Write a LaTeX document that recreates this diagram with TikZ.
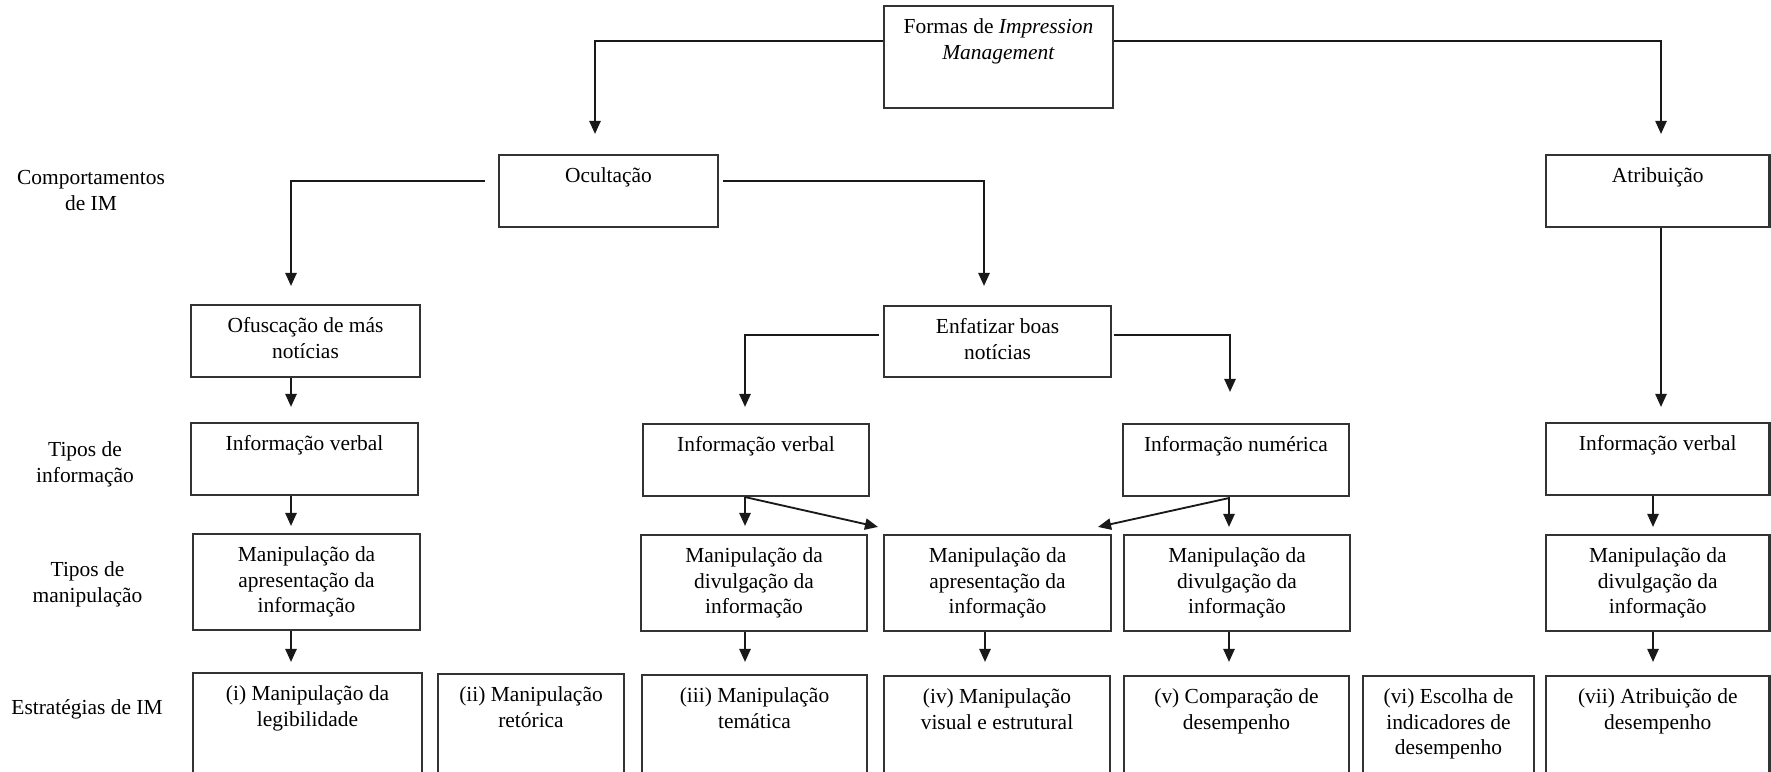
\documentclass[tikz,border=0pt]{standalone}
\usepackage{fontspec}
\setmainfont{Liberation Serif}
\usetikzlibrary{arrows.meta,calc}

% box from corner (x1,y1) to (x2,y2), pixel-like units, y grows downward
\newcommand\mkbox[5]{%
  \node[boxst, minimum width={(#4-#2)*0.02cm}, minimum height={(#5-#3)*0.02cm}]
    (#1) at ({(#2+#4)/2},{(#3+#5)/2}) {};}
% text hanging from the top edge of a box
\newcommand\boxtext[2]{%
  \node[txt] (#1-t) at ($(#1.north)+(0,10.7)$) {\strut #2};}
% straight downward arrow from one box to the next, tip offset from target top
\newcommand\varrow[4]{%
  \coordinate (tip-#2) at ($(#2.north)+(#3,#4)$);
  \draw[arr] (tip-#2 |- #1.south) -- (tip-#2);}

\begin{document}
\begin{tikzpicture}[x=0.02cm, y=-0.02cm,
  boxst/.style={draw=black!80, line width=1.2pt, inner sep=0pt, fill=white},
  txt/.style={anchor=north, inner sep=0pt, align=center,
              font=\fontsize{12.2pt}{14.5pt}\selectfont},
  arr/.style={draw=black!90, line width=1.05pt,
              -{Triangle[length=7.4pt,width=6.4pt]}}]
\useasboundingbox (0,0) rectangle (1771,771);
\clip (0,0) rectangle (1771,771);

% level labels on the left
\node[txt] (lblA) at (91,166.7)  {\strut Comportamentos\\de IM};
\node[txt] (lblB) at (85,438.7)  {\strut Tipos de\\informação};
\node[txt] (lblC) at (87.5,558.7){\strut Tipos de\\manipulação};
\node[txt] (lblD) at (87,696.7)  {\strut Estratégias de IM};

% boxes
\mkbox{formas}{884}{6}{1113}{108}
\mkbox{ocult}{499}{155}{718}{227}
\mkbox{atrib}{1546}{155}{1769.5}{227}
\mkbox{ofusc}{191}{305}{420}{377}
\mkbox{enfat}{884}{306}{1111}{377}
\mkbox{ivL}{191}{423}{418}{495}
\mkbox{ivM}{643}{424}{869}{496}
\mkbox{inum}{1123}{424}{1349}{496}
\mkbox{ivR}{1546}{423}{1769.5}{495}
\mkbox{maL}{193}{534}{420}{630}
\mkbox{mdM}{641}{535}{867}{631}
\mkbox{maM}{884}{535}{1111}{631}
\mkbox{mdN}{1124}{535}{1350}{631}
\mkbox{mdR}{1546}{535}{1769.5}{631}
\mkbox{sA}{193}{673}{422}{800}
\mkbox{sB}{438}{674}{624}{800}
\mkbox{sC}{642}{675}{867}{800}
\mkbox{sD}{884}{676}{1110}{800}
\mkbox{sE}{1124}{676}{1349}{800}
\mkbox{sF}{1363}{676}{1534}{800}
\mkbox{sG}{1546}{676}{1769.5}{800}

% box texts
\boxtext{formas}{Formas de \textit{Impression}\\\textit{Management}}
\boxtext{ocult}{Ocultação}
\boxtext{atrib}{Atribuição}
\boxtext{ofusc}{Ofuscação de más\\notícias}
\boxtext{enfat}{Enfatizar boas\\notícias}
\boxtext{ivL}{Informação verbal}
\boxtext{ivM}{Informação verbal}
\boxtext{inum}{Informação numérica}
\boxtext{ivR}{Informação verbal}
\boxtext{maL}{Manipulação da\\apresentação da\\informação}
\boxtext{mdM}{Manipulação da\\divulgação da\\informação}
\boxtext{maM}{Manipulação da\\apresentação da\\informação}
\boxtext{mdN}{Manipulação da\\divulgação da\\informação}
\boxtext{mdR}{Manipulação da\\divulgação da\\informação}
\boxtext{sA}{(i) Manipulação da\\legibilidade}
\boxtext{sB}{(ii) Manipulação\\retórica}
\boxtext{sC}{(iii) Manipulação\\temática}
\boxtext{sD}{(iv) Manipulação\\visual e estrutural}
\boxtext{sE}{(v) Comparação de\\desempenho}
\boxtext{sF}{(vi) Escolha de\\indicadores de\\desempenho}
\boxtext{sG}{(vii) Atribuição de\\desempenho}

% elbow connectors
\draw[arr] ($(formas.north west)+(0,36)$) -| ($(ocult.north)+(-13.5,-20)$);
\draw[arr] ($(formas.north east)+(0,36)$) -| ($(atrib.north)+(3.25,-20)$);
\draw[arr] ($(ocult.north west)+(-13,27)$) -| ($(ofusc.north)+(-14.5,-18)$);
\draw[arr] ($(ocult.north east)+(4,27)$) -| ($(enfat.north)+(-13.5,-19)$);
\draw[arr] ($(enfat.north west)+(-4,30)$) -| ($(ivM.north)+(-11,-16)$);
\draw[arr] ($(enfat.north east)+(2,30)$) -| ($(inum.north)+(-6,-31)$);

% straight connectors
\varrow{ofusc}{ivL}{-13.5}{-15}
\varrow{ivL}{maL}{-15.5}{-7}
\varrow{maL}{sA}{-16.5}{-10}
\varrow{ivM}{mdM}{-9}{-8}
\varrow{mdM}{sC}{-9.5}{-12}
\varrow{inum}{mdN}{-8}{-7}
\varrow{maM}{sD}{-12}{-13}
\varrow{mdN}{sE}{-7.5}{-13}
\varrow{atrib}{ivR}{3.25}{-15}
\varrow{ivR}{mdR}{-4.75}{-7}
\varrow{mdR}{sG}{-4.75}{-13}

% slanted connectors into the shared box
\draw[arr] ($(ivM.south)+(-11,0)$) -- ($(maM.north west)+(-5,-7)$);
\draw[arr] ($(inum.south)+(-7,1)$) -- ($(maM.north east)+(-14,-7)$);
\end{tikzpicture}
\end{document}
